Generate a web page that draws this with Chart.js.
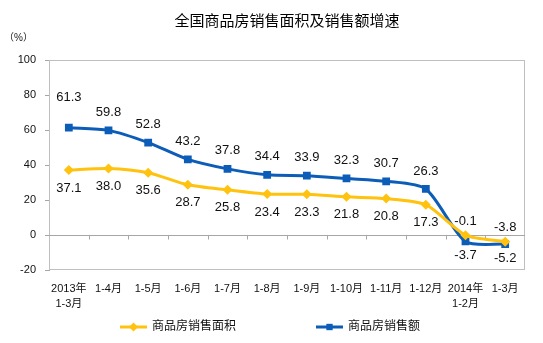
<!DOCTYPE html>
<html lang="zh-CN">
<head>
<meta charset="UTF-8">
<title>全国商品房销售面积及销售额增速</title>
<script src="https://cdn.jsdelivr.net/npm/chart.js"></script>
<style>
  html,body{margin:0;padding:0;background:#fff;}
  #wrap{width:543px;height:343px;position:relative;}
</style>
</head>
<body>
<div id="wrap"><canvas id="salesChart" width="543" height="343"></canvas></div>
<script>
// 数据
const categories = [['2013年','1-3月'],'1-4月','1-5月','1-6月','1-7月','1-8月','1-9月','1-10月','1-11月','1-12月',['2014年','1-2月'],'1-3月'];
const areaGrowth   = [37.1, 38.0, 35.6, 28.7, 25.8, 23.4, 23.3, 21.8, 20.8, 17.3, -0.1, -3.8];
const amountGrowth = [61.3, 59.8, 52.8, 43.2, 37.8, 34.4, 33.9, 32.3, 30.7, 26.3, -3.7, -5.2];
const seriesNames  = ['商品房销售面积', '商品房销售额'];
const yTicks = [-20, 0, 20, 40, 60, 80, 100];

const FONT = "'Liberation Sans','Noto Sans CJK SC',sans-serif";
const YELLOW = '#FFC20E', BLUE = '#0C5DB8';

// 标题、单位、图例、数据标签、零线等
const decor = {
  id: 'decor',
  beforeDatasetsDraw(chart) {
    const {ctx, chartArea: a, scales: {x, y}} = chart;
    ctx.save();
    ctx.lineWidth = 1;
    ctx.strokeStyle = '#BFBFBF';
    ctx.strokeRect(a.left + 0.5, a.top + 0.5, a.right - a.left - 1, a.bottom - a.top - 1);
    ctx.strokeStyle = '#A6A6A6';
    const y0 = Math.round(y.getPixelForValue(0)) + 0.5;
    ctx.beginPath();
    ctx.moveTo(a.left, y0); ctx.lineTo(a.right, y0);
    for (let i = 1; i < categories.length; i++) {
      const px = Math.round((x.getPixelForValue(i - 1) + x.getPixelForValue(i)) / 2) + 0.5;
      ctx.moveTo(px, y0); ctx.lineTo(px, y0 + 4);
    }
    ctx.stroke();
    ctx.restore();
  },
  afterDatasetsDraw(chart) {
    const {ctx} = chart;
    ctx.save();
    ctx.font = '13px ' + FONT;
    ctx.fillStyle = '#111';
    ctx.textAlign = 'center';
    ctx.textBaseline = 'middle';
    chart.data.datasets.forEach((ds, di) => {
      const meta = chart.getDatasetMeta(di);
      meta.data.forEach((pt, i) => {
        const v = ds.data[i];
        // 面积在下方, 销售额在上方; 负值时反过来
        let up = di === 1;
        if (v < 0) up = !up;
        const off = v < 0 ? 14 : 18;
        const lift = (di === 1 && i === 0) ? 12 : 0;
        ctx.fillText(v.toFixed(1), pt.x, pt.y + (up ? -(off + lift) : off));
      });
    });
    ctx.restore();
  },
  afterDraw(chart) {
    const {ctx, chartArea: a} = chart;
    ctx.save();
    ctx.fillStyle = '#000';
    ctx.textBaseline = 'middle';
    ctx.textAlign = 'center';
    ctx.font = '15px ' + FONT;
    ctx.fillText('全国商品房销售面积及销售额增速', (a.left + a.right) / 2, 22);
    ctx.textAlign = 'left';
    ctx.font = '10px ' + FONT;
    ctx.fillStyle = '#222';
    ctx.fillText('（%）', 4, 38);

    // 图例
    const items = [
      {x: 120, ds: chart.data.datasets[0]},
      {x: 316, ds: chart.data.datasets[1]}
    ];
    const ly = 327;
    items.forEach(it => {
      ctx.strokeStyle = it.ds.borderColor;
      ctx.lineWidth = 3;
      ctx.beginPath(); ctx.moveTo(it.x, ly); ctx.lineTo(it.x + 27, ly); ctx.stroke();
      ctx.fillStyle = it.ds.borderColor;
      Chart.helpers.drawPoint(ctx, {pointStyle: it.ds.pointStyle, radius: 4.5, borderWidth: 0, rotation: 0}, it.x + 13.5, ly);
      ctx.fillStyle = '#111';
      ctx.font = '12px ' + FONT;
      ctx.textAlign = 'left';
      ctx.fillText(it.ds.label, it.x + 32, ly);
    });
    ctx.restore();
  }
};

new Chart(document.getElementById('salesChart'), {
  type: 'line',
  data: {
    labels: categories,
    datasets: [
      {
        label: seriesNames[0], data: areaGrowth,
        borderColor: YELLOW, backgroundColor: YELLOW,
        borderWidth: 3, tension: 0.25,
        pointStyle: 'rectRot', pointRadius: 5, pointBorderWidth: 0
      },
      {
        label: seriesNames[1], data: amountGrowth,
        borderColor: BLUE, backgroundColor: BLUE,
        borderWidth: 3, tension: 0.25,
        pointStyle: 'rect', pointRadius: 5.5, pointBorderWidth: 0
      }
    ]
  },
  options: {
    responsive: false,
    animation: false,
    layout: {padding: {left: 0, right: 18, top: 60, bottom: 0}},
    plugins: {legend: {display: false}, title: {display: false}, tooltip: {enabled: false}},
    scales: {
      x: {
        offset: true,
        grid: {display: false, offset: true},
        border: {display: false},
        ticks: {
          font: {family: FONT, size: 11, lineHeight: 1.35}, color: '#111',
          padding: 4, maxRotation: 0, autoSkip: false
        },
        afterFit(s) { s.height = 73; }
      },
      y: {
        min: -20, max: 100,
        afterBuildTicks(s) { s.ticks = yTicks.map(v => ({value: v})); },
        grid: {drawOnChartArea: false, tickLength: 4, color: '#A6A6A6'},
        border: {display: true, color: '#A6A6A6'},
        ticks: {font: {family: FONT, size: 11}, color: '#111', padding: 9},
        afterFit(s) { s.width = 49; }
      }
    }
  },
  plugins: [decor]
});
</script>
</body>
</html>
